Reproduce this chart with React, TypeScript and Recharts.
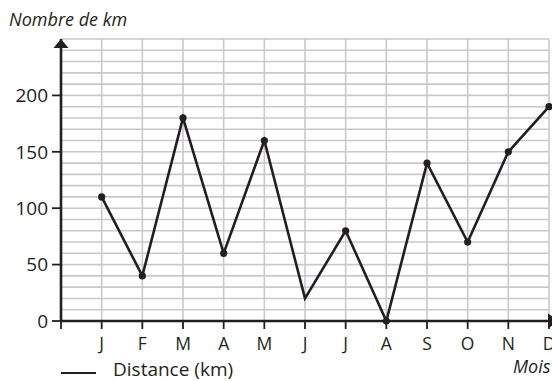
import React from 'react';
import { LineChart, Line, XAxis, YAxis, CartesianGrid, ReferenceDot } from 'recharts';

const months = ['J', 'F', 'M', 'A', 'M', 'J', 'J', 'A', 'S', 'O', 'N', 'D'];
const monthPositions = [1, 2, 3, 4, 5, 6, 7, 8, 9, 10, 11, 12];
const distances = [110, 40, 180, 60, 160, 20, 80, 0, 140, 70, 150, 190];
const noDotIndexes = [5];
const xTicks = [0, 1, 2, 3, 4, 5, 6, 7, 8, 9, 10, 11, 12];
const yTicks = [0, 50, 100, 150, 200];
const yGridValues = [0, 10, 20, 30, 40, 50, 60, 70, 80, 90, 100, 110, 120, 130, 140, 150, 160, 170, 180, 190, 200, 210, 220, 230, 240, 250];
const xGridValues = [1, 2, 3, 4, 5, 6, 7, 8, 9, 10, 11, 12];

const data = months.map((m, i) => ({ pos: monthPositions[i], month: m, distance: distances[i] }));

const INK = '#231f20';
const GRID = '#c9c9cd';
const FONT = '"Open Sans", "Noto Sans", sans-serif';

const renderDot = (props: any) => {
  const { cx, cy, index } = props;
  if (noDotIndexes.includes(index)) return <g key={`d${index}`} />;
  return <circle key={`d${index}`} cx={cx} cy={cy} r={3.6} fill={INK} stroke="none" />;
};

const UpArrow = (props: any) => {
  const { cx, cy } = props;
  return <path d={`M${cx},${cy} L${cx - 7.5},${cy + 9} L${cx + 7.5},${cy + 9} Z`} fill={INK} />;
};

const RightArrow = (props: any) => {
  const { cx, cy } = props;
  return <path d={`M${cx + 10},${cy} L${cx - 1},${cy - 7.5} L${cx - 1},${cy + 7.5} Z`} fill={INK} />;
};

export default function App() {
  return (
    <div style={{ position: 'absolute', left: 0, top: 0, width: 552, height: 381, background: '#fff', overflow: 'hidden', fontFamily: FONT }}>
      <div style={{ position: 'absolute', left: 9, top: 7, fontSize: 18, fontStyle: 'italic', color: INK, lineHeight: '24px' }}>
        Nombre de km
      </div>
      <LineChart width={552} height={381} data={data} margin={{ top: 39, right: 3, left: 0, bottom: 30 }}>
        <CartesianGrid
          horizontalValues={yGridValues}
          verticalValues={xGridValues}
          stroke={GRID}
          strokeWidth={1.6}
        />
        <XAxis
          dataKey="pos"
          type="number"
          domain={[0, 12]}
          ticks={xTicks}
          interval={0}
          tickFormatter={(v: number) => (v === 0 ? '' : months[v - 1])}
          axisLine={{ stroke: INK, strokeWidth: 2.6 }}
          tickLine={{ stroke: INK, strokeWidth: 1.8 }}
          tickSize={8}
          tickMargin={9}
          height={30}
          tick={{ fill: INK, fontSize: 17.5, fontFamily: FONT }}
        />
        <YAxis
          type="number"
          domain={[0, 250]}
          ticks={yTicks}
          interval={0}
          width={61}
          axisLine={{ stroke: INK, strokeWidth: 2.6 }}
          tickLine={{ stroke: INK, strokeWidth: 1.8 }}
          tickSize={9}
          tickMargin={4}
          tick={{ fill: INK, fontSize: 19, fontFamily: FONT }}
        />
        <Line
          type="linear"
          dataKey="distance"
          stroke={INK}
          strokeWidth={2.6}
          dot={renderDot}
          activeDot={false}
          isAnimationActive={false}
        />
        <ReferenceDot x={0} y={250} ifOverflow="visible" shape={UpArrow} />
        <ReferenceDot x={12} y={0} ifOverflow="visible" shape={RightArrow} />
      </LineChart>
      <div style={{ position: 'absolute', left: 61, top: 356, display: 'flex', alignItems: 'center', color: INK, fontSize: 19, lineHeight: '26px' }}>
        <span style={{ display: 'inline-block', width: 35, height: 2.6, background: INK, marginRight: 17, marginTop: 8 }} />
        <span>Distance (km)</span>
      </div>
      <div style={{ position: 'absolute', left: 513, top: 354, fontSize: 18, fontStyle: 'italic', color: INK, lineHeight: '24px', whiteSpace: 'nowrap' }}>
        Mois
      </div>
    </div>
  );
}
